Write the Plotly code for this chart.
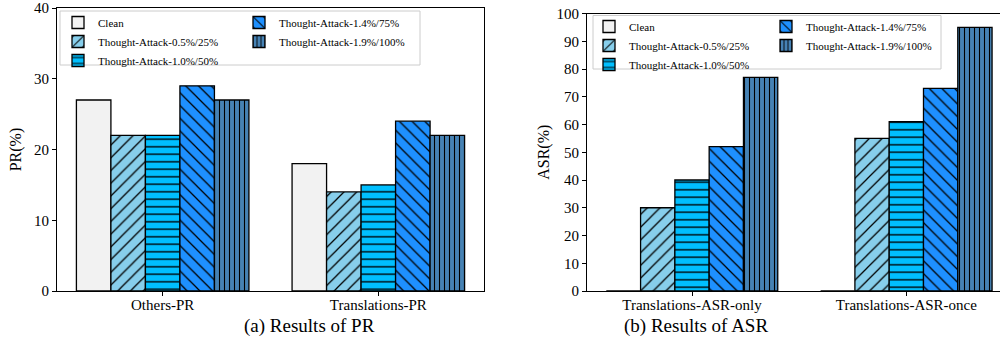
import plotly.graph_objects as go

series = ["Clean", "Thought-Attack-0.5%/25%", "Thought-Attack-1.0%/50%",
          "Thought-Attack-1.4%/75%", "Thought-Attack-1.9%/100%"]
colors = ["#f2f2f2", "#87ceeb", "#00bfff", "#1e90ff", "#4682b4"]
hatches = ["", "/", "-", "\\", "|"]
hatch_sizes = [8, 9, 7.5, 9, 5]
hatch_solidity = [0.2, 0.14, 0.18, 0.14, 0.22]

pr_categories = ["Others-PR", "Translations-PR"]
pr_values = [[27, 18], [22, 14], [22, 15], [29, 24], [27, 22]]

asr_categories = ["Translations-ASR-only", "Translations-ASR-once"]
asr_values = [[0, 0], [30, 55], [40, 61], [52, 73], [77, 95]]

W, H = 1000, 360
FONT = "Liberation Serif"


def px(x):
    return x / W


def py(y):
    return (H - y) / H


fig = go.Figure()

legend_names_left = ["legend", "legend", "legend", "legend2", "legend2"]
legend_names_right = ["legend3", "legend3", "legend3", "legend4", "legend4"]


def make_marker(i):
    pattern = dict(shape=hatches[i], fgcolor="black", bgcolor=colors[i],
                   size=hatch_sizes[i], solidity=hatch_solidity[i],
                   fillmode="replace")
    return dict(color=colors[i], line=dict(color="black", width=1.3),
                pattern=pattern)


for i, name in enumerate(series):
    fig.add_trace(go.Bar(
        x=pr_categories, y=pr_values[i], name=name, marker=make_marker(i),
        xaxis="x", yaxis="y", legend=legend_names_left[i],
    ))
for i, name in enumerate(series):
    fig.add_trace(go.Bar(
        x=asr_categories, y=asr_values[i], name=name, marker=make_marker(i),
        xaxis="x2", yaxis="y2", legend=legend_names_right[i],
    ))

axis_common = dict(
    showline=True, linecolor="black", linewidth=1,
    ticks="outside", ticklen=4, tickcolor="black",
    showgrid=False, zeroline=False, automargin=False,
    tickfont=dict(family=FONT, size=15, color="black"),
)

legend_common = dict(
    bgcolor="rgba(0,0,0,0)", borderwidth=0,
    font=dict(family=FONT, size=11, color="black"),
    xanchor="left", yanchor="top", orientation="v",
    tracegroupgap=0, itemwidth=30,
)

fig.update_layout(
    width=W, height=H,
    margin=dict(l=0, r=0, t=0, b=0, autoexpand=False),
    paper_bgcolor="white", plot_bgcolor="white",
    barmode="group", bargap=0.2, bargroupgap=0,
    font=dict(family=FONT, color="black"),
    xaxis=dict(domain=[px(57), px(484)], range=[-0.49, 1.49], anchor="y",
               mirror=True, ticklabelstandoff=-4, **axis_common),
    yaxis=dict(domain=[py(291), py(8)], range=[0, 40], dtick=10, anchor="x",
               mirror=True,
               title=dict(text="PR(%)", font=dict(family=FONT, size=16),
                          standoff=8),
               **axis_common),
    xaxis2=dict(domain=[px(587), 1.0], range=[-0.49, 1.437], anchor="y2",
                mirror=True, ticklabelstandoff=-4, **axis_common),
    yaxis2=dict(domain=[py(291), py(13.5)], range=[0, 100], dtick=10,
                anchor="x2",
                title=dict(text="ASR(%)", font=dict(family=FONT, size=16),
                           standoff=2),
                **axis_common),
    legend=dict(x=px(58), y=py(8), **legend_common),
    legend2=dict(x=px(239), y=py(8), **legend_common),
    legend3=dict(x=px(589), y=py(12), **legend_common),
    legend4=dict(x=px(766), y=py(12), **legend_common),
    showlegend=True,
)

# legend frames
fig.add_shape(type="rect", xref="paper", yref="paper",
              x0=px(60), x1=px(420), y0=py(65), y1=py(11),
              line=dict(color="#cccccc", width=1), fillcolor="white",
              layer="below")
fig.add_shape(type="rect", xref="paper", yref="paper",
              x0=px(593), x1=px(941), y0=py(69), y1=py(15.5),
              line=dict(color="#cccccc", width=1), fillcolor="white",
              layer="below")

fig.add_annotation(text="(a) Results of PR", xref="paper", yref="paper",
                   x=px(242), y=py(326), showarrow=False, yanchor="middle",
                   font=dict(family=FONT, size=19, color="black"))
fig.add_annotation(text="(b) Results of ASR", xref="paper", yref="paper",
                   x=px(770), y=py(326), showarrow=False, yanchor="middle",
                   font=dict(family=FONT, size=19, color="black"))

fig.write_html("out.html",
               config={"displayModeBar": False},
               post_script="document.body.style.margin='0px';"
                           "document.body.style.overflow='hidden';")
